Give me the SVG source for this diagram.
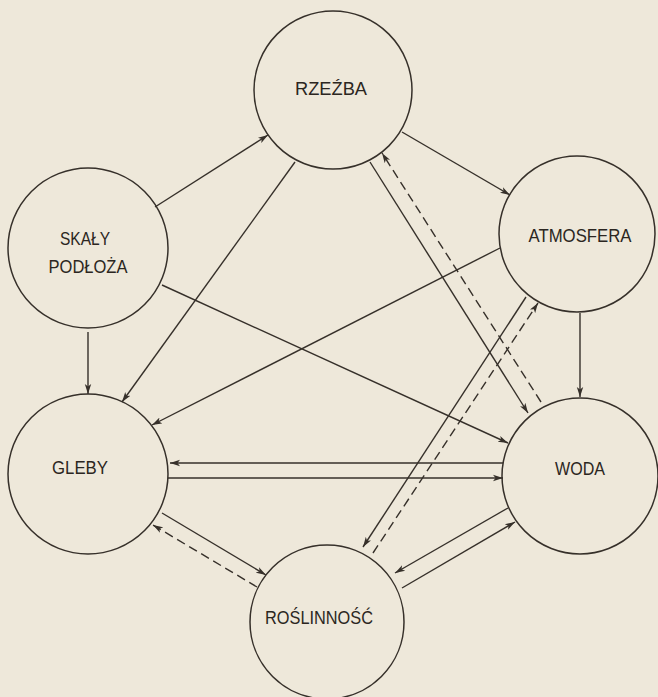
<svg xmlns="http://www.w3.org/2000/svg" width="658" height="697" viewBox="0 0 658 697">
<defs>
<style>
.bg{fill:#eee8da}
.node circle{fill:none;stroke:#36302a;stroke-width:1.5}
.node text{font-family:"Liberation Sans","DejaVu Sans",sans-serif;font-size:18px;fill:#2b2621;text-anchor:middle}
.edges line{stroke:#36302a;stroke-width:1.4;fill:none}
.edges .d{stroke-dasharray:9 5}
</style>
<marker id="ah" markerUnits="userSpaceOnUse" markerWidth="12" markerHeight="8" refX="10" refY="4" orient="auto">
<path d="M0,0.8 L10,4 L0,7.2 L2.5,4 z" fill="#36302a"/>
</marker>
</defs>
<rect class="bg" x="0" y="0" width="658" height="697"/>
<g id="edges" class="edges">
<line x1="155" y1="207" x2="268" y2="135" marker-end="url(#ah)"/>
<line x1="402" y1="132" x2="510" y2="195" marker-end="url(#ah)"/>
<line x1="295" y1="162" x2="122" y2="402" marker-end="url(#ah)"/>
<line x1="88" y1="332" x2="88" y2="394" marker-end="url(#ah)"/>
<line x1="162" y1="285" x2="508" y2="443" marker-end="url(#ah)"/>
<line x1="500" y1="248" x2="152" y2="425" marker-end="url(#ah)"/>
<line x1="580" y1="313" x2="580" y2="397" marker-end="url(#ah)"/>
<line x1="370" y1="162" x2="528" y2="413" marker-end="url(#ah)"/>
<line class="d" x1="541" y1="402" x2="382" y2="153" marker-end="url(#ah)"/>
<line x1="526" y1="297" x2="363" y2="547" marker-end="url(#ah)"/>
<line class="d" x1="373" y1="553" x2="538" y2="303" marker-end="url(#ah)"/>
<line x1="503" y1="463" x2="170" y2="463" marker-end="url(#ah)"/>
<line x1="168" y1="478" x2="503" y2="478" marker-end="url(#ah)"/>
<line x1="162" y1="513" x2="266" y2="575" marker-end="url(#ah)"/>
<line class="d" x1="257" y1="587" x2="153" y2="525" marker-end="url(#ah)"/>
<line x1="508" y1="508" x2="395" y2="573" marker-end="url(#ah)"/>
<line x1="402" y1="588" x2="515" y2="522" marker-end="url(#ah)"/>
</g>
<g id="rzezba" class="node">
<circle cx="333" cy="90" r="79"/>
<text x="331" y="95" textLength="72" lengthAdjust="spacingAndGlyphs">RZEŹBA</text>
</g>
<g id="skaly" class="node">
<circle cx="88" cy="248" r="80"/>
<text x="85" y="245" textLength="50" lengthAdjust="spacingAndGlyphs">SKAŁY</text>
<text x="88" y="273" textLength="79" lengthAdjust="spacingAndGlyphs">PODŁOŻA</text>
</g>
<g id="atmosfera" class="node">
<circle cx="577" cy="234" r="78"/>
<text x="580" y="242" textLength="103" lengthAdjust="spacingAndGlyphs">ATMOSFERA</text>
</g>
<g id="gleby" class="node">
<circle cx="88" cy="474" r="80"/>
<text x="80" y="474" textLength="56" lengthAdjust="spacingAndGlyphs">GLEBY</text>
</g>
<g id="woda" class="node">
<circle cx="580" cy="476" r="78"/>
<text x="580" y="475" textLength="50" lengthAdjust="spacingAndGlyphs">WODA</text>
</g>
<g id="roslinnosc" class="node">
<circle cx="327" cy="622" r="77"/>
<text x="319" y="624" textLength="108" lengthAdjust="spacingAndGlyphs">ROŚLINNOŚĆ</text>
</g>
</svg>
